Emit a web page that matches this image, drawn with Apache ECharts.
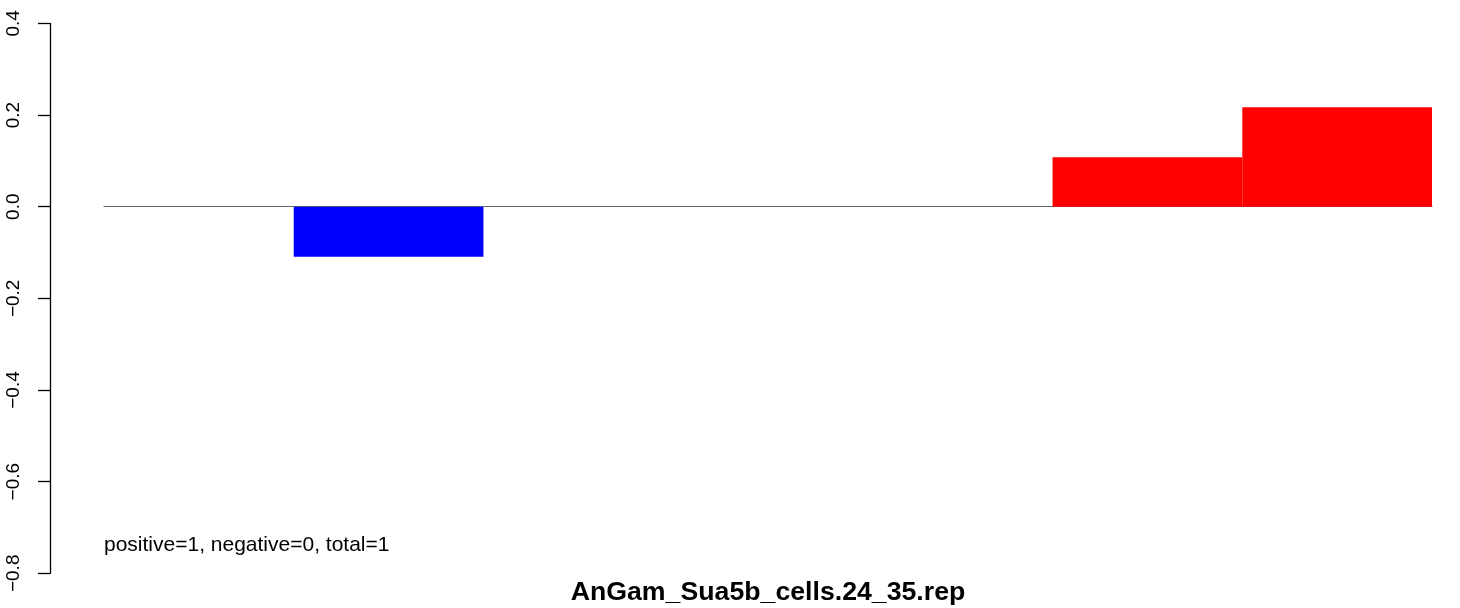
<!DOCTYPE html>
<html>
<head>
<meta charset="utf-8">
<script src="https://cdn.jsdelivr.net/npm/echarts@6/dist/echarts.min.js"></script>
<style>html,body{margin:0;padding:0;background:#fff}#c{width:1460px;height:608px}</style>
</head>
<body>
<div id="c"></div>
<script>
var categories = ['1', '2', '3', '4', '5', '6', '7'];
var values = [0, -0.109, 0, 0, 0, 0.108, 0.217];
var yTicks = [-0.8, -0.6, -0.4, -0.2, 0.0, 0.2, 0.4];
var titleText = 'AnGam_Sua5b_cells.24_35.rep';
var noteText = 'positive=1, negative=0, total=1';

var chart = echarts.init(document.getElementById('c'), null, {renderer: 'canvas'});
var FONT = '"Liberation Sans", Arial, Helvetica, sans-serif';
chart.setOption({
  animation: false,
  backgroundColor: '#ffffff',
  grid: {left: 104, right: 28, top: 23.4, bottom: 34.7, containLabel: false},
  xAxis: {
    type: 'category',
    data: categories,
    boundaryGap: true,
    axisLine: {show: true, onZero: true, lineStyle: {color: '#666666', width: 1.2}},
    axisTick: {show: false},
    axisLabel: {show: false},
    splitLine: {show: false}
  },
  yAxis: {
    type: 'value',
    min: yTicks[0],
    max: yTicks[yTicks.length - 1],
    interval: 0.2,
    offset: 54,
    axisLine: {show: true, lineStyle: {color: '#000', width: 1.3}},
    axisTick: {show: true, length: 12, lineStyle: {color: '#000', width: 1.3}},
    splitLine: {show: false},
    axisLabel: {
      rotate: 90,
      margin: 27,
      fontFamily: FONT,
      fontSize: 19,
      color: '#000',
      formatter: function (v) {
        var s = (Math.round(v * 10) / 10).toFixed(1);
        return s.replace('-', '\u2212');
      }
    }
  },
  series: [{
    type: 'bar',
    data: values,
    barWidth: '100%',
    barCategoryGap: '0%',
    itemStyle: {
      color: function (p) { return p.value < 0 ? '#0000ff' : '#ff0000'; }
    }
  }],
  graphic: [
    {type: 'text', x: 768, y: 593, style: {text: titleText, font: 'bold 26.7px ' + FONT, fill: '#000', textAlign: 'center', textVerticalAlign: 'middle'}},
    {type: 'text', x: 104, y: 545, style: {text: noteText, font: '21px ' + FONT, fill: '#000', textAlign: 'left', textVerticalAlign: 'middle'}}
  ]
});
</script>
</body>
</html>
